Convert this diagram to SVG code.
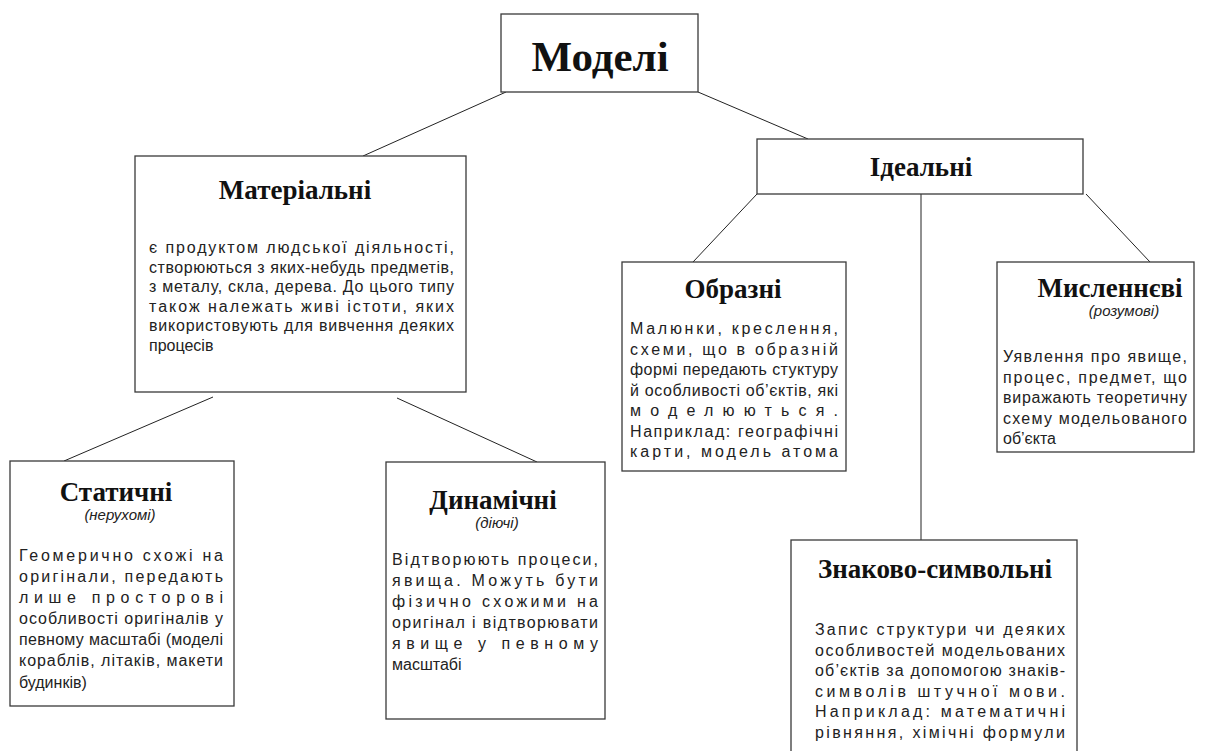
<svg xmlns="http://www.w3.org/2000/svg" width="1221" height="751" viewBox="0 0 1221 751">
<style>
.box{fill:#fff;stroke:#3a3a3a;stroke-width:1.3}
.t{font-family:"Liberation Serif",serif;font-weight:bold;text-anchor:middle;fill:#111;font-size:27px}
.s{font-family:"Liberation Sans",sans-serif;font-style:italic;font-size:15px;text-anchor:middle;fill:#222}
.b{font-family:"Liberation Sans",sans-serif;font-size:16px;fill:#222}
.conn line{stroke:#222;stroke-width:1}
</style>
<rect width="1221" height="751" fill="#fff"/>
<g class="conn">
<line x1="506" y1="92" x2="363" y2="156"/>
<line x1="698" y1="92" x2="808" y2="139"/>
<line x1="213" y1="397" x2="64" y2="461"/>
<line x1="397" y1="398" x2="537" y2="462"/>
<line x1="757" y1="194" x2="693" y2="262"/>
<line x1="921" y1="194" x2="921" y2="540"/>
<line x1="1086" y1="194" x2="1150" y2="262"/>
</g>
<g id="modeli">
<rect class="box" x="501" y="14" width="197" height="78"/>
<text class="t" x="600" y="71" style="font-size:43px">Моделі</text>
</g>
<g id="idealni">
<rect class="box" x="757" y="139" width="326" height="55"/>
<text class="t" x="921" y="176">Ідеальні</text>
</g>
<g id="materialni">
<rect class="box" x="135" y="156" width="331" height="236"/>
<text class="t" x="295" y="199">Матеріальні</text>
<text class="b" x="149" y="253" textLength="305" lengthAdjust="spacing">є продуктом людської діяльності,</text>
<text class="b" x="149" y="272.5" textLength="305" lengthAdjust="spacing">створюються з яких-небудь предметів,</text>
<text class="b" x="149" y="292" textLength="305" lengthAdjust="spacing">з металу, скла, дерева. До цього типу</text>
<text class="b" x="149" y="311.5" textLength="305" lengthAdjust="spacing">також належать живі істоти, яких</text>
<text class="b" x="149" y="331" textLength="305" lengthAdjust="spacing">використовують для вивчення деяких</text>
<text class="b" x="149" y="350.5">процесів</text>
</g>
<g id="statychni">
<rect class="box" x="10" y="461" width="224" height="245"/>
<text class="t" x="116" y="501">Статичні</text>
<text class="s" x="120" y="520">(нерухомі)</text>
<text class="b" x="19" y="561" textLength="204" lengthAdjust="spacing">Геомерично схожі на</text>
<text class="b" x="19" y="582" textLength="204" lengthAdjust="spacing">оригінали, передають</text>
<text class="b" x="19" y="603" textLength="204" lengthAdjust="spacing">лише просторові</text>
<text class="b" x="19" y="624" textLength="204" lengthAdjust="spacing">особливості оригіналів у</text>
<text class="b" x="19" y="645" textLength="204" lengthAdjust="spacing">певному масштабі (моделі</text>
<text class="b" x="19" y="666" textLength="204" lengthAdjust="spacing">кораблів, літаків, макети</text>
<text class="b" x="19" y="688">будинків)</text>
</g>
<g id="dynamichni">
<rect class="box" x="386" y="462" width="219" height="257"/>
<text class="t" x="493" y="509">Динамічні</text>
<text class="s" x="497" y="528">(діючі)</text>
<text class="b" x="392" y="565" textLength="206" lengthAdjust="spacing">Відтворюють процеси,</text>
<text class="b" x="392" y="586" textLength="206" lengthAdjust="spacing">явища. Можуть бути</text>
<text class="b" x="392" y="607" textLength="206" lengthAdjust="spacing">фізично схожими на</text>
<text class="b" x="392" y="628" textLength="206" lengthAdjust="spacing">оригінал і відтворювати</text>
<text class="b" x="392" y="649" textLength="206" lengthAdjust="spacing">явище у певному</text>
<text class="b" x="392" y="670">масштабі</text>
</g>
<g id="obrazni">
<rect class="box" x="622" y="262" width="224" height="209"/>
<text class="t" x="733" y="298">Образні</text>
<text class="b" x="630" y="334" textLength="208" lengthAdjust="spacing">Малюнки, креслення,</text>
<text class="b" x="630" y="354.5" textLength="208" lengthAdjust="spacing">схеми, що в образній</text>
<text class="b" x="630" y="375" textLength="208" lengthAdjust="spacing">формі передають стуктуру</text>
<text class="b" x="630" y="395.5" textLength="208" lengthAdjust="spacing">й особливості об’єктів, які</text>
<text class="b" x="630" y="416" textLength="208" lengthAdjust="spacing">моделюються.</text>
<text class="b" x="630" y="436.5" textLength="208" lengthAdjust="spacing">Наприклад: географічні</text>
<text class="b" x="630" y="457" textLength="208" lengthAdjust="spacing">карти, модель атома</text>
</g>
<g id="myslennievi">
<rect class="box" x="997" y="262" width="197" height="190"/>
<text class="t" x="1110" y="297">Мисленнєві</text>
<text class="s" x="1124" y="316">(розумові)</text>
<text class="b" x="1003" y="362" textLength="184" lengthAdjust="spacing">Уявлення про явище,</text>
<text class="b" x="1003" y="382.5" textLength="184" lengthAdjust="spacing">процес, предмет, що</text>
<text class="b" x="1003" y="403" textLength="184" lengthAdjust="spacing">виражають теоретичну</text>
<text class="b" x="1003" y="423.5" textLength="184" lengthAdjust="spacing">схему модельованого</text>
<text class="b" x="1003" y="444">об’єкта</text>
</g>
<g id="znakovo">
<rect class="box" x="791" y="540" width="286" height="220"/>
<text class="t" x="935" y="578">Знаково-символьні</text>
<text class="b" x="815" y="635" textLength="250" lengthAdjust="spacing">Запис структури чи деяких</text>
<text class="b" x="815" y="655.5" textLength="250" lengthAdjust="spacing">особливостей модельованих</text>
<text class="b" x="815" y="676" textLength="250" lengthAdjust="spacing">об’єктів за допомогою знаків-</text>
<text class="b" x="815" y="696.5" textLength="250" lengthAdjust="spacing">символів штучної мови.</text>
<text class="b" x="815" y="717" textLength="250" lengthAdjust="spacing">Наприклад: математичні</text>
<text class="b" x="815" y="737.5" textLength="250" lengthAdjust="spacing">рівняння, хімічні формули</text>
</g>
</svg>
